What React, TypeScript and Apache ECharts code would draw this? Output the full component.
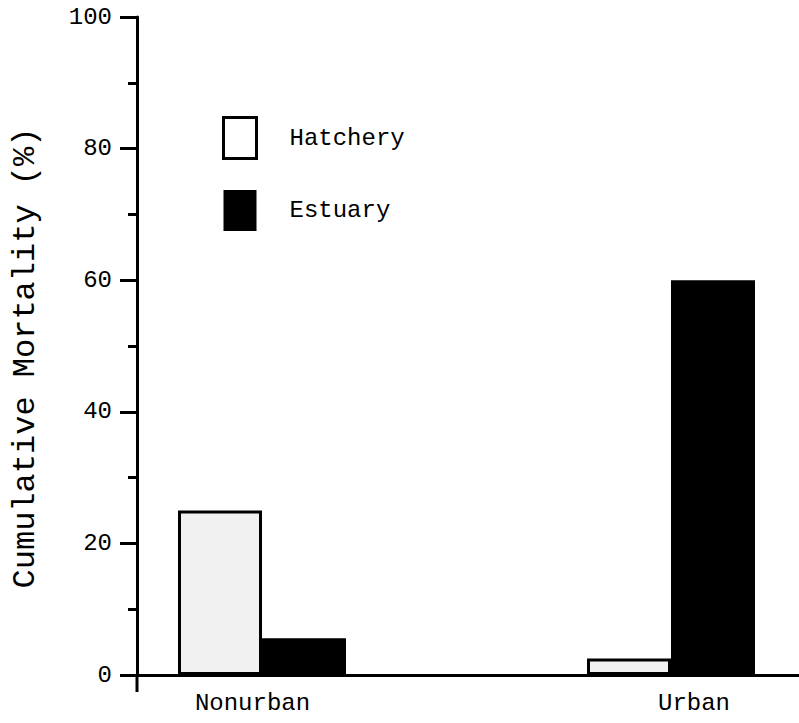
import React, { useEffect, useRef } from "react";
import * as echarts from "echarts";

const categories = ["Nonurban", "Urban"];
const hatchery = [25, 2.5];
const estuary = [5.6, 60];
const yTicks = [0, 20, 40, 60, 80, 100];

const FONT = '"Liberation Mono", "DejaVu Sans Mono", monospace';

export default function App() {
  const ref = useRef<HTMLDivElement>(null);
  useEffect(() => {
    if (!ref.current) return;
    const chart = echarts.init(ref.current, null, { renderer: "svg" });
    chart.setOption({
      animation: false,
      backgroundColor: "#ffffff",
      grid: [
        { left: 262, width: 409, top: 17, height: 658 },
        { left: 137, right: 0, top: 17, height: 658 },
      ],
      legend: {
        orient: "vertical",
        left: 217,
        top: 111,
        itemWidth: 33,
        itemHeight: 41,
        itemGap: 30,
        icon: "rect",
        selectedMode: false,
        textStyle: {
          fontFamily: FONT,
          fontSize: 24,
          color: "#000",
          padding: [0, 0, 0, 28],
        },
        data: [
          { name: "Hatchery", itemStyle: { color: "#ffffff", borderColor: "#000", borderWidth: 3 } },
          { name: "Estuary", itemStyle: { color: "#000", borderWidth: 0 } },
        ],
      },
      xAxis: [
        {
          type: "category",
          gridIndex: 0,
          data: categories,
          boundaryGap: false,
          axisLine: { show: false },
          axisTick: { show: false },
          splitLine: { show: false },
          axisLabel: {
            margin: 16,
            fontFamily: FONT,
            fontSize: 24,
            color: "#000",
            formatter: (v: string) => (v === "Nonurban" ? "{a|" + v + "}" : "{b|" + v + "}"),
            rich: {
              a: { fontFamily: FONT, fontSize: 24, color: "#000", padding: [0, 19, 0, 0] },
              b: { fontFamily: FONT, fontSize: 24, color: "#000", padding: [0, 0, 0, 46] },
            },
          },
        },
        {
          type: "value",
          gridIndex: 1,
          min: 0,
          max: 1,
          axisLine: { show: true, lineStyle: { color: "#000", width: 3 } },
          axisTick: { show: false },
          axisLabel: { show: false },
          splitLine: { show: false },
        },
      ],
      yAxis: [
        {
          type: "value",
          gridIndex: 0,
          min: yTicks[0],
          max: yTicks[yTicks.length - 1],
          show: false,
          splitLine: { show: false },
        },
        {
          type: "value",
          gridIndex: 1,
          min: yTicks[0],
          max: yTicks[yTicks.length - 1],
          interval: 20,
          axisLine: { show: true, lineStyle: { color: "#000", width: 3 } },
          axisTick: { show: true, inside: false, length: 17, lineStyle: { color: "#000", width: 3 } },
          minorTick: { show: true, splitNumber: 2, length: 9, lineStyle: { color: "#000", width: 3 } },
          splitLine: { show: false },
          minorSplitLine: { show: false },
          axisLabel: { margin: 25, fontFamily: FONT, fontSize: 24, color: "#000" },
        },
      ],
      graphic: [
        {
          type: "line",
          shape: { x1: 137, y1: 675, x2: 137, y2: 692 },
          style: { stroke: "#000", lineWidth: 3 },
        },
        {
          type: "text",
          x: 25,
          y: 358,
          rotation: Math.PI / 2,
          style: {
            text: "Cumulative Mortality (%)",
            fontFamily: FONT,
            fontSize: 32,
            fill: "#000",
            align: "center",
            verticalAlign: "middle",
          },
        },
      ],
      series: [
        {
          name: "Hatchery",
          type: "bar",
          xAxisIndex: 0,
          yAxisIndex: 0,
          data: hatchery,
          barWidth: 84,
          barGap: "0%",
          itemStyle: { color: "#f1f1f1", borderColor: "#000", borderWidth: 3 },
        },
        {
          name: "Estuary",
          type: "bar",
          xAxisIndex: 0,
          yAxisIndex: 0,
          data: estuary,
          barWidth: 84,
          barGap: "0%",
          itemStyle: { color: "#000" },
        },
      ],
    });
    return () => chart.dispose();
  }, []);
  return (
    <div
      ref={ref}
      style={{ position: "fixed", left: 0, top: 0, width: 799, height: 723, background: "#fff" }}
    />
  );
}
